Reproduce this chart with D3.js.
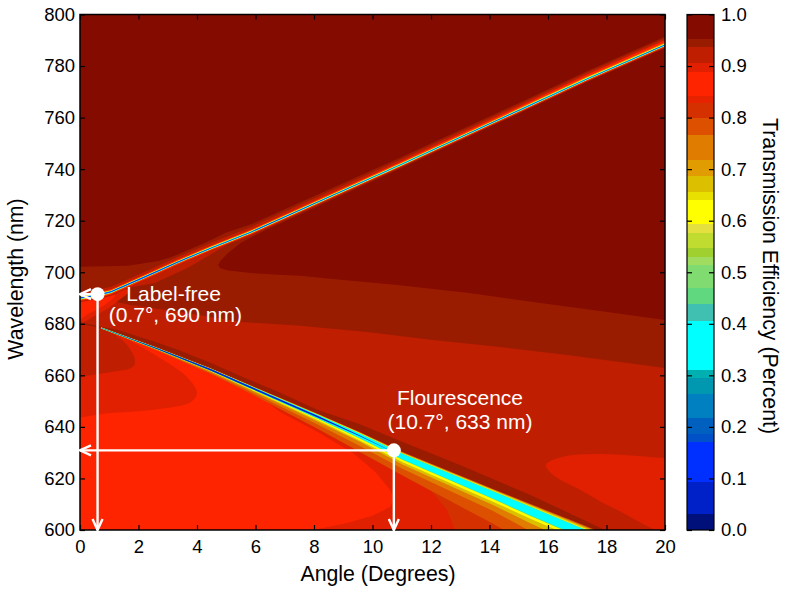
<!DOCTYPE html>
<html>
<head>
<meta charset="utf-8">
<script src="https://cdn.jsdelivr.net/npm/d3@7"></script>
<style>
    html, body { margin: 0; padding: 0; background: #fff; }
    svg { display: block; }
    text { font-family: "Liberation Sans", Arial, sans-serif; fill: #000; }
    .note { fill: #fff; font-size: 21px; text-anchor: middle; }
    .title { font-size: 21.3px; text-anchor: middle; }
</style>
</head>
<body>
<svg id="chart" width="789" height="594"></svg>
<script>
// colour levels of the contour plot
const levelBreaks = [0.031, 0.094, 0.171, 0.186, 0.218, 0.264, 0.295, 0.31, 0.406, 0.438, 0.469, 0.514, 0.53, 0.547,
    0.577, 0.594, 0.64, 0.656, 0.687, 0.718, 0.766, 0.799, 0.828, 0.841, 0.889, 0.906, 0.937, 0.952];
const levelColors = ["#00107a", "#0020c8", "#0030ff", "#0050c8", "#0060c0", "#0080c0", "#0098b0", "#00b0b0", "#00ffff",
    "#40c0b0", "#60d880", "#80dc70", "#a0dc60", "#a0d030", "#c0dc30", "#e4e040", "#ffff00", "#e8e000", "#dcc000",
    "#e09c00", "#e07c00", "#dc5000", "#d43000", "#e62200", "#ff2400", "#e02000", "#c01e00", "#9a1c00", "#840b00"];

const angleTicks = [0, 2, 4, 6, 8, 10, 12, 14, 16, 18, 20];
const wavelengthTicks = [600, 620, 640, 660, 680, 700, 720, 740, 760, 780, 800];
const barTicks = [0, 0.1, 0.2, 0.3, 0.4, 0.5, 0.6, 0.7, 0.8, 0.9, 1];

// contour regions as [angle, wavelength], painted in this order
const bandRegion = [[0, 800], [20, 800], [20, 662.9], [16.65, 667.9], [14.36, 671], [12.07, 673.7], [9.81, 676.8],
    [7.52, 679.2], [5.5, 680.7], [3.42, 684.6], [1.71, 687.3], [0.68, 690], [0, 690.5]];
const darkRegion = [[0, 800], [20, 800], [20, 681.5], [17.78, 685], [15.49, 688.5], [13.23, 692], [10.94, 695],
    [8.65, 697.4], [7.52, 698.6], [6.77, 699], [5.85, 699.7], [5.06, 700.7], [4.8, 701.6], [4.72, 702.8], [4.8, 704.4],
    [5.06, 707.5], [5.5, 711.4], [6.3, 716.2], [6.3, 720], [5.64, 717.8], [4.96, 715.2], [4.48, 712.5], [3.59, 707.5],
    [2.67, 704.4], [1.64, 702.5], [0, 702.1]];
const underGlow = [[0.6, 691], [1.64, 694], [2.56, 695.8], [3.69, 701.7], [4.72, 708.6], [5.3, 712.5], [5.85, 715.6],
    [4.48, 709.4], [3.35, 704], [2.22, 698.2], [1.06, 692.4]];
const leftGlowOuter = [[0, 690], [1.7, 693], [1.2, 688], [0.5, 683], [0, 680.5]];
const leftGlowInner = [[0, 690], [1.2, 691], [0.8, 687], [0.3, 684], [0, 682]];
const rightLobe = [[15.93, 625.3], [16.51, 628.4], [17.68, 629.5], [19.93, 628], [20.6, 627.5], [20.6, 598], [18.22, 608.6],
    [17.09, 615.6], [16.17, 621.4]];
const lowerWedge = [[0, 680.2], [0.72, 678.4], [2.67, 670.2], [4.48, 662.1], [5.64, 656.3], [8.14, 643.9], [9.57, 636.5],
    [11.04, 628.4], [14.12, 613.6], [15.38, 607.4], [17.16, 598.9], [0, 598.9]];
const stepWedge = [[11.04, 628.4], [11.04, 625.8], [11.86, 617.1], [12.55, 607.8], [12.82, 600], [12.9, 598], [17.16, 598],
    [15.38, 607.4], [14.12, 613.6]];
const brightRegion = [[0, 680], [0.72, 678.4], [2.67, 670.2], [4.48, 662.1], [5.64, 656.3], [6.84, 645.8], [8.2, 637.5],
    [9.33, 629.9], [10.1, 622.5], [10.6, 615.5], [10.75, 612], [10.6, 608.9], [10, 605.5], [9.13, 602.7], [7.97, 600],
    [7.5, 597], [-1, 597], [-1, 680]];
const leftLobeOuter = [[-1, 645], [1.06, 645.4], [2.77, 647], [3.79, 649.7], [4, 653.2], [3.69, 659], [3.01, 664.8],
    [2.09, 671], [1.2, 676.5], [0.72, 678.4], [-1, 680.2]];
const leftLobeInner = [[-1, 660.9], [1.06, 661.3], [1.81, 663.3], [1.88, 666], [1.54, 672.6], [1.06, 676.5], [0.72, 678.4],
    [-1, 680.2]];
const ridgeStrip = [[0, 680.6], [1.3, 677.6], [2.56, 673], [3.35, 669.9], [4.48, 664.8], [5.64, 659], [6.77, 653.6],
    [8.14, 646.6], [9.57, 641], [10.7, 635.7], [12.99, 625.2], [15.38, 613.7], [17.95, 600], [18.2, 598.5], [17.16, 598.9],
    [15.38, 607.4], [14.12, 613.6], [11.04, 628.4], [9.57, 636.5], [8.14, 643.9], [5.64, 656.3], [4.48, 662.1],
    [2.67, 670.2], [0.72, 678.4], [0, 680]];

// the painted regions with the level each one sits at; lobes are drawn smooth
const regions = [
    { points: bandRegion, value: 0.945 },
    { points: darkRegion, value: 0.97 },
    { points: underGlow, value: 0.92 },
    { points: leftGlowOuter, value: 0.895, smooth: true },
    { points: leftGlowInner, value: 0.87, smooth: true },
    { points: rightLobe, value: 0.895, smooth: true },
    { points: lowerWedge, value: 0.895 },
    { points: stepWedge, value: 0.81 },
    { points: brightRegion, value: 0.87 },
    { points: leftLobeOuter, value: 0.895, smooth: true },
    { points: leftLobeInner, value: 0.92, smooth: true },
    { points: ridgeStrip, value: 0.945 }
];

// lower resonance: centre line and stripe half widths in nm
const lowerAngle = [0.72, 2.67, 4.48, 5.64, 8.14, 9.57, 11.04, 14.12, 15.38, 17.16, 18.5];
const lowerNm = [678.4, 670.2, 662.1, 656.3, 643.9, 636.5, 628.4, 613.6, 607.4, 598.9, 592.5];
const lowerStripes = [
    { value: 0.78, up: [.25, .45, .6, .7, 1.1, 1.4, 1.8, 2.3, 2.8, 3.2, 3.4], down: [.2, .8, 1.6, 2.3, 4.7, 6.2, 7.4, 11.2, 13.2, 15.5, 17] },
    { value: 0.74, up: [.22, .4, .55, .65, 1, 1.3, 1.65, 2.15, 2.6, 3, 3.2], down: [.2, .6, 1.2, 1.6, 3.1, 3.9, 4.7, 6.2, 7.8, 10, 11] },
    { value: 0.67, up: [.2, .35, .5, .6, .9, 1.2, 1.5, 2, 2.4, 2.7, 2.9], down: [.15, .4, .7, .9, 1.9, 2.3, 3.1, 3.9, 4.7, 5.4, 6] },
    { value: 0.62, up: [.15, .3, .42, .52, .8, 1.1, 1.3, 1.7, 2, 2.2, 2.3], down: [.1, .3, .55, .7, 1.35, 1.75, 2.1, 2.6, 2.9, 3.1, 3.2] },
    { value: 0.44, up: [.12, .25, .36, .45, .7, .9, 1.15, 1.55, 1.8, 1.9, 2], down: [.1, .25, .4, .5, .8, 1, 1.25, 1.6, 1.9, 2, 2.1] },
    { value: 0.35, up: [.1, .2, .3, .4, .6, .8, 1, 1.35, 1.6, 1.7, 1.8], down: [.1, .2, .3, .4, .6, .8, 1, 1.35, 1.6, 1.7, 1.8] },
    { value: 0.06, up: [.05, .2, .35, .35, .35, .15, 0, 0, 0, 0, 0], down: [.05, .2, .35, .35, .35, .15, 0, 0, 0, 0, 0] }
];

// upper resonance
const upperAngle = [0, 0.62, 1.06, 2.22, 3.35, 4.48, 5.85, 10.94, 15.04, 17.33, 20];
const upperNm = [690, 691.2, 692.4, 698.2, 704, 709.4, 715.6, 741.6, 763, 775, 788.2];
const upperStripes = [
    { value: 0.945, up: [3, 3, 3, 3, 3, 3, 3, 2.8, 2.9, 3, 3.2], down: [0, 0, 0, 0, 0, 0, 1.8, 1.4, 1.2, 1.2, 1.2] },
    { value: 0.92, up: [2, 2, 2, 2, 2, 2, 2, 2, 2.2, 2.4, 2.6], down: [1.6, 1.6, 1.6, 1.4, 1.4, 1.2, 1.2, 1, 1, 1, 1] },
    { value: 0.87, up: [1.2, 1.2, 1, 1, 1, 1, 1, 1.2, 1.4, 1.6, 1.8], down: [1.2, 1.2, 1, 1, 1, .9, .9, .8, .8, .8, .8] },
    { value: 0.74, up: [.8, .8, .65, .65, .65, .65, .65, .7, .8, .85, .95], down: [.8, .8, .6, .6, .6, .55, .55, .55, .55, .55, .55] },
    { value: 0.62, up: [.6, .55, .5, .5, .5, .5, .5, .5, .5, .55, .55], down: [.6, .5, .45, .45, .45, .45, .45, .45, .45, .45, .45] },
    { value: 0.35, up: [.4, .35, .35, .35, .3, .3, .3, .3, .3, .3, .3], down: [.4, .35, .35, .35, .3, .3, .3, .3, .3, .3, .3] },
    { value: 0.1, up: [.2, .2, .2, .2, .2, .15, .15, .12, .12, .12, .12], down: [.2, .2, .2, .2, .2, .15, .15, .12, .12, .12, .12] }
];

// the two marked operating points and their labels
const markers = [
    { angle: 0.6, nm: 691.5, lines: ["Label-free", "(0.7°, 690 nm)"], labelAngle: [3.2, 3.26], labelNm: [689, 680.8] },
    { angle: 10.73, nm: 630.9, lines: ["Flourescence", "(10.7°, 633 nm)"], labelAngle: [12.99, 12.99], labelNm: [648.5, 639.2] }
];

var svg = d3.select("#chart");
var plot = { left: 80, right: 665, top: 14.5, bottom: 530 };
var bar = { left: 687, right: 714 };

var x = d3.scaleLinear().domain([0, 20]).range([plot.left, plot.right]);
var y = d3.scaleLinear().domain([600, 800]).range([plot.bottom, plot.top]);
var barY = d3.scaleLinear().domain([0, 1]).range([plot.bottom, plot.top]);
var level = d3.scaleThreshold().domain(levelBreaks).range(levelColors);

svg.append("clipPath").attr("id", "plotClip").append("rect")
    .attr("x", plot.left).attr("y", plot.top)
    .attr("width", plot.right - plot.left).attr("height", plot.bottom - plot.top);

var field = svg.append("g").attr("clip-path", "url(#plotClip)");

// base level of the contour plot
field.append("rect")
    .attr("x", plot.left).attr("y", plot.top)
    .attr("width", plot.right - plot.left).attr("height", plot.bottom - plot.top)
    .attr("fill", level(0.92));

var straightLine = d3.line()
    .x(d => x(d[0]))
    .y(d => y(d[1]))
    .curve(d3.curveLinearClosed);
var smoothLine = d3.line()
    .x(d => x(d[0]))
    .y(d => y(d[1]))
    .curve(d3.curveCatmullRomClosed.alpha(0.5));

field.selectAll("path.region")
    .data(regions)
    .enter().append("path")
    .attr("class", "region")
    .attr("d", d => (d.smooth ? smoothLine : straightLine)(d.points))
    .attr("fill", d => level(d.value));

// stripes of a resonance, one area per level, outermost first
function drawStripes(angles, centres, stripes) {
    stripes.forEach(function (stripe) {
        var area = d3.area()
            .x(i => x(angles[i]))
            .y0(i => y(centres[i] + stripe.up[i]))
            .y1(i => y(centres[i] - stripe.down[i]));
        field.append("path")
            .attr("d", area(d3.range(angles.length)))
            .attr("fill", level(stripe.value));
    });
}
drawStripes(lowerAngle, lowerNm, lowerStripes);
drawStripes(upperAngle, upperNm, upperStripes);

// frame and axes
function styleAxis(g) {
    g.select(".domain").remove();
    g.selectAll("line").attr("stroke", "#000").attr("stroke-width", 1.2);
    g.selectAll("text").style("font-size", "18.5px");
}

svg.append("g").attr("transform", `translate(0,${plot.bottom})`)
    .call(d3.axisBottom(x).tickValues(angleTicks).tickFormat(d3.format("d")).tickSizeInner(-5).tickPadding(10))
    .call(styleAxis);
svg.append("g").attr("transform", `translate(0,${plot.top})`)
    .call(d3.axisTop(x).tickValues(angleTicks).tickFormat("").tickSizeInner(-5))
    .call(styleAxis);
svg.append("g").attr("transform", `translate(${plot.left},0)`)
    .call(d3.axisLeft(y).tickValues(wavelengthTicks).tickFormat(d3.format("d")).tickSizeInner(-5).tickPadding(5))
    .call(styleAxis);
svg.append("g").attr("transform", `translate(${plot.right},0)`)
    .call(d3.axisRight(y).tickValues(wavelengthTicks).tickFormat("").tickSizeInner(-5))
    .call(styleAxis);

svg.append("rect")
    .attr("x", plot.left).attr("y", plot.top)
    .attr("width", plot.right - plot.left).attr("height", plot.bottom - plot.top)
    .attr("fill", "none").attr("stroke", "#000").attr("stroke-width", 1.5);

// colour bar
var barEdges = [0].concat(levelBreaks, [1]);
svg.selectAll("rect.level")
    .data(levelColors)
    .enter().append("rect")
    .attr("class", "level")
    .attr("x", bar.left)
    .attr("width", bar.right - bar.left)
    .attr("y", (d, i) => barY(barEdges[i + 1]))
    .attr("height", (d, i) => barY(barEdges[i]) - barY(barEdges[i + 1]))
    .attr("shape-rendering", "crispEdges")
    .attr("fill", d => d);

svg.append("g").attr("transform", `translate(${bar.right},0)`)
    .call(d3.axisRight(barY).tickValues(barTicks).tickFormat(d3.format(".1f")).tickSizeInner(-5).tickPadding(7))
    .call(styleAxis);
svg.append("g").attr("transform", `translate(${bar.left},0)`)
    .call(d3.axisLeft(barY).tickValues(barTicks).tickFormat("").tickSizeInner(-5))
    .call(styleAxis);

svg.append("rect")
    .attr("x", bar.left).attr("y", plot.top)
    .attr("width", bar.right - bar.left).attr("height", plot.bottom - plot.top)
    .attr("fill", "none").attr("stroke", "#000").attr("stroke-width", 1.2);

// axis titles
svg.append("text").attr("class", "title").attr("x", 378).attr("y", 581).text("Angle (Degrees)");
svg.append("text").attr("class", "title").attr("transform", "translate(23,279) rotate(-90)").text("Wavelength (nm)");
svg.append("text").attr("class", "title").attr("transform", "translate(763,276) rotate(90)").text("Transmission Efficiency (Percent)");

// annotations: drop lines with open arrow heads, dots and labels
var notes = svg.append("g");

function arrowLine(x1, y1, x2, y2) {
    notes.append("line").attr("x1", x1).attr("y1", y1).attr("x2", x2).attr("y2", y2)
        .attr("stroke", "#fff").attr("stroke-width", 2.4);
    var dx = Math.sign(x2 - x1), dy = Math.sign(y2 - y1), s = 11, w = 5;
    notes.append("path")
        .attr("d", d3.line()([[x2 - dx * s + dy * w, y2 - dy * s + dx * w], [x2, y2], [x2 - dx * s - dy * w, y2 - dy * s - dx * w]]))
        .attr("fill", "none").attr("stroke", "#fff").attr("stroke-width", 2.4);
}

markers.forEach(function (m) {
    arrowLine(x(m.angle), y(m.nm), x(0), y(m.nm));
    arrowLine(x(m.angle), y(m.nm), x(m.angle), y(600));
    notes.append("circle").attr("cx", x(m.angle)).attr("cy", y(m.nm)).attr("r", 7).attr("fill", "#fff");
    m.lines.forEach(function (t, i) {
        notes.append("text").attr("class", "note")
            .attr("x", x(m.labelAngle[i])).attr("y", y(m.labelNm[i]))
            .text(t);
    });
});
</script>
</body>
</html>
